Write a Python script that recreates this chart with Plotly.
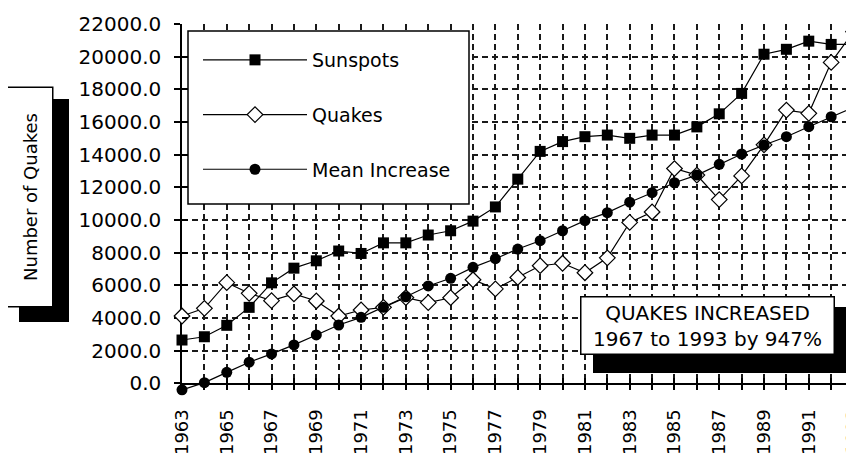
import plotly.graph_objects as go

# ---------------- data ----------------
years = list(range(1963, 1994))
sunspots = [2650, 2850, 3550, 4650, 6150, 7050, 7500, 8100, 7950, 8600,
            8600, 9080, 9340, 9930, 10800, 12500, 14200, 14800, 15100, 15200,
            15000, 15200, 15200, 15700, 16500, 17750, 20150, 20450, 20950, 20750,
            20750]
quakes = [4120, 4590, 6160, 5510, 5060, 5470, 5040, 4120, 4490, 4650,
          5250, 4940, 5240, 6340, 5780, 6480, 7200, 7350, 6770, 7680,
          9850, 10490, 13150, 12750, 11250, 12700, 14600, 16730, 16530, 19650,
          21530]
mean_increase = [-400, 40, 670, 1290, 1800, 2350, 2960, 3570, 4040, 4650,
                 5300, 5960, 6430, 7100, 7630, 8220, 8730, 9340, 9960, 10450,
                 11090, 11670, 12280, 12750, 13410, 14040, 14590, 15100, 15710, 16320,
                 16900]
series_names = ["Sunspots", "Quakes", "Mean Increase"]
y_ticks = list(range(0, 22001, 2000))
y_title = "Number of Quakes"
note_lines = ["QUAKES INCREASED", "1967 to 1993 by 947%"]

# ---------------- geometry (page pixels; the page body has an 8px margin) ----------------
OFF = 8
W, H = 854 - OFF, 454 - OFF
PLOT_L, PLOT_R, PLOT_T, PLOT_B = 182, 854, 24, 397   # page pixels of the plotting area
ZERO_Y = 383.3                                       # page pixel of y = 0 (x-axis line)
L, R, T, B = PLOT_L - OFF, 854 - PLOT_R, PLOT_T - OFF, 454 - PLOT_B
PW, PH = W - L - R, H - T - B
FONT = "DejaVu Sans"
X_RANGE = [1963, 1993.02]
Y_RANGE = [0, 22000]
D0 = (PLOT_B - ZERO_Y) / PH
Y_RANGE_EXT = [-D0 * Y_RANGE[1] / (1 - D0), Y_RANGE[1]]


def px(x):
    return (x - PLOT_L) / PW


def py(y):
    return (PLOT_B - y) / PH


grid = dict(showgrid=True, gridcolor="#1a1a1a", griddash="6px,4px", gridwidth=1.5)
hidden = dict(visible=False, showgrid=False, zeroline=False, showline=False,
              automargin=False)

fig = go.Figure()
fig.add_trace(go.Scatter(
    x=years, y=sunspots, name=series_names[0], mode="lines+markers",
    line=dict(color="black", width=1.2),
    marker=dict(symbol="square", size=11, color="black"),
    cliponaxis=False, legendgroup="a"))
fig.add_trace(go.Scatter(
    x=years, y=quakes, name=series_names[1], mode="lines+markers",
    line=dict(color="black", width=1.2),
    marker=dict(symbol="diamond", size=12, color="white",
                line=dict(color="black", width=1.2)),
    cliponaxis=False, legendgroup="b"))
# mean increase dips below zero in 1963: draw it on twin axes with the same scale
fig.add_trace(go.Scatter(
    x=years, y=mean_increase, name=series_names[2], mode="lines+markers",
    line=dict(color="black", width=1.2),
    marker=dict(symbol="circle", size=11, color="black"),
    cliponaxis=False, legendgroup="c", xaxis="x3", yaxis="y3"))
# empty trace so the overlay axes (inner half of the cross ticks) exist
fig.add_trace(go.Scatter(x=[None], y=[None], xaxis="x2", yaxis="y2",
                         showlegend=False, hoverinfo="skip"))

fig.update_layout(
    template="none",
    width=W, height=H,
    margin=dict(l=L, r=R, t=T, b=B, pad=0, autoexpand=False),
    paper_bgcolor="white", plot_bgcolor="rgba(0,0,0,0)",
    font=dict(family=FONT, color="black"),
    showlegend=True,
    legend=dict(x=px(198), y=py(41), xanchor="left", yanchor="top",
                bgcolor="rgba(0,0,0,0)", borderwidth=0,
                font=dict(family=FONT, size=19, color="black"),
                traceorder="grouped", tracegroupgap=27, itemwidth=104),
    xaxis=dict(range=X_RANGE, tick0=1963, dtick=2, tickangle=-90,
               ticks="outside", ticklen=5, tickwidth=1.5, tickcolor="black",
               showline=True, linecolor="black", linewidth=1.5,
               zeroline=False, automargin=False, layer="below traces",
               tickfont=dict(family=FONT, size=18, color="black"),
               ticklabelstandoff=12, ticklabeloverflow="allow",
               minor=dict(tick0=1963, dtick=1, ticks="outside", ticklen=5,
                          tickwidth=1.5, tickcolor="black", **grid),
               **grid),
    yaxis=dict(range=Y_RANGE, domain=[D0, 1], tickvals=y_ticks, tickformat=".1f",
               ticks="outside", ticklen=6, tickwidth=1.5, tickcolor="black",
               showline=True, linecolor="black", linewidth=1.5,
               zeroline=False, automargin=False, layer="below traces",
               tickfont=dict(family=FONT, size=20, color="black"),
               ticklabelstandoff=9,
               **grid),
    xaxis2=dict(overlaying="x", anchor="y2", side="bottom", range=X_RANGE,
                tick0=1963, dtick=2, ticks="inside", ticklen=5, tickwidth=1.5,
                tickcolor="black", showticklabels=False, showgrid=False,
                showline=False, zeroline=False, automargin=False,
                minor=dict(tick0=1963, dtick=1, ticks="inside", ticklen=5,
                           tickwidth=1.5, tickcolor="black", showgrid=False)),
    yaxis2=dict(overlaying="y", anchor="x2", side="left", range=Y_RANGE,
                tickvals=y_ticks, ticks="inside", ticklen=6, tickwidth=1.5,
                tickcolor="black", showticklabels=False, showgrid=False,
                showline=False, zeroline=False, automargin=False),
    xaxis3=dict(range=X_RANGE, domain=[0, 1], anchor="y3", **hidden),
    yaxis3=dict(range=Y_RANGE_EXT, domain=[0, 1], anchor="x3", **hidden),
)

# legend frame (white box behind the legend entries)
fig.add_shape(type="rect", xref="paper", yref="paper",
              x0=px(188), x1=px(469), y0=py(204), y1=py(31),
              fillcolor="white", line=dict(color="black", width=1.5), layer="above")
# drop shadows
fig.add_shape(type="rect", xref="paper", yref="paper",
              x0=px(19), x1=px(69), y0=py(322), y1=py(99),
              fillcolor="black", line=dict(width=0), layer="above")
fig.add_shape(type="rect", xref="paper", yref="paper",
              x0=px(593), x1=px(851), y0=py(373), y1=py(307),
              fillcolor="black", line=dict(width=0), layer="above")

# y-axis title box
fig.add_annotation(xref="paper", yref="paper", x=px(30), y=py(197.5),
                   xanchor="center", yanchor="middle",
                   text=y_title, textangle=-90, showarrow=False,
                   font=dict(family=FONT, size=18, color="black"),
                   bgcolor="white", bordercolor="black", borderwidth=1.5,
                   width=216, height=42)
# note box
fig.add_annotation(xref="paper", yref="paper", x=px(707), y=py(325),
                   xanchor="center", yanchor="middle",
                   text="<br>".join(note_lines), showarrow=False, align="center",
                   font=dict(family=FONT, size=20, color="black"),
                   bgcolor="white", bordercolor="black", borderwidth=1.5,
                   width=250, height=54)

fig.write_html("out.html")
